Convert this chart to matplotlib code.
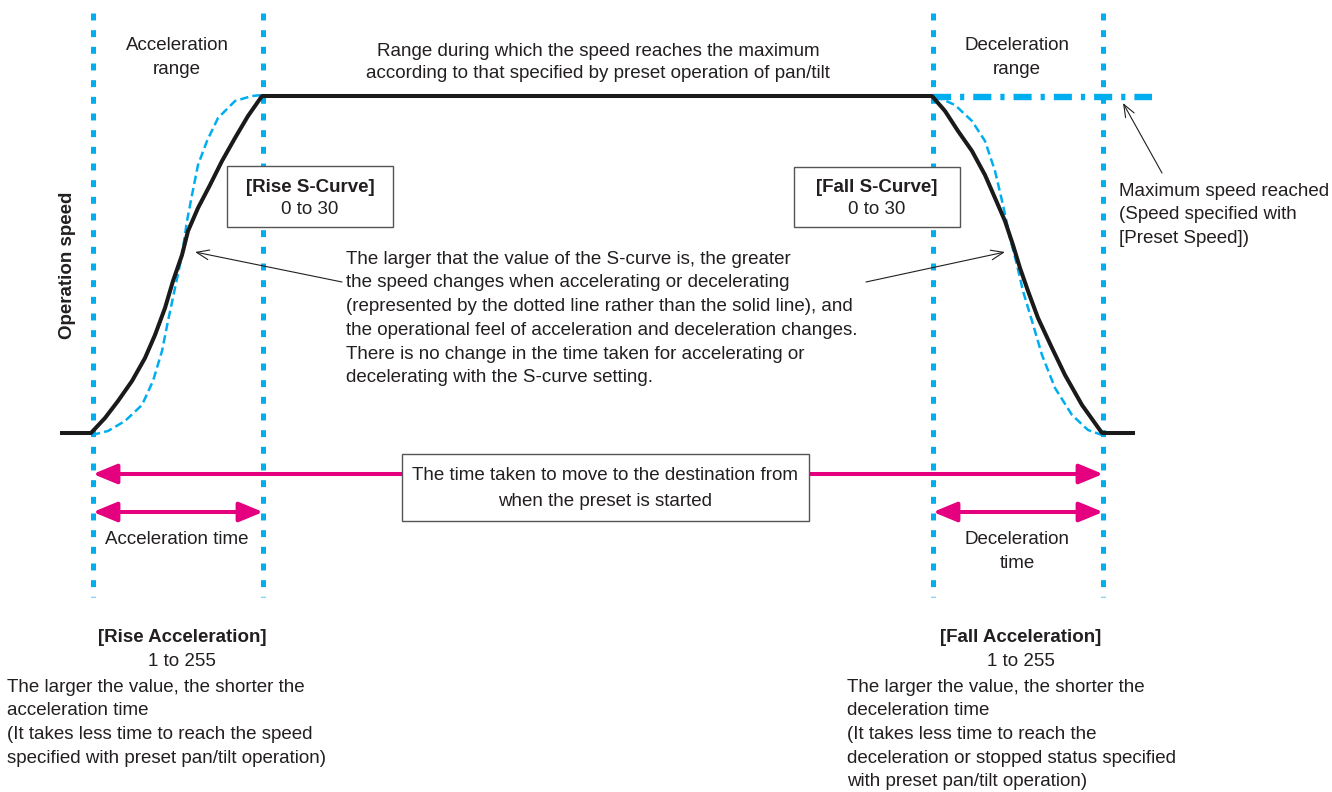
import matplotlib.pyplot as plt
from matplotlib.patches import FancyArrowPatch, Rectangle

# canvas is laid out in pixel units of the 1332x792 picture
W, H = 1332, 792
BLUE = '#00aeef'
PINK = '#e4007f'
INK = '#231f20'
FS = 13.5

plt.rcParams['font.family'] = ['Liberation Sans', 'DejaVu Sans']
plt.rcParams['lines.scale_dashes'] = False

# range boundaries (start accel, end accel, start decel, end decel)
bounds_x = [93, 263, 933, 1103]
bounds_top, bounds_bottom = 13, 597

# operation speed, solid line
speed_x = [62, 91, 105, 118, 132, 145, 155, 165, 173, 182, 188, 198, 210, 222, 235, 248, 262,
           932, 945, 958, 972, 985, 995, 1005, 1013, 1020, 1028, 1038, 1052, 1065, 1082, 1102, 1133]
speed_y = [433, 433, 418, 401, 381, 358, 335, 308, 281, 255, 231, 208, 185, 161, 138, 116, 96,
           96, 111, 131, 151, 175, 198, 221, 245, 268, 291, 318, 348, 375, 405, 433, 433]

# S-curve versions (dashed blue)
rise_s_x = [92, 108, 125, 142, 153, 162, 168, 175, 182, 187, 192, 198, 207, 218, 235, 252, 262]
rise_s_y = [435, 431, 421, 405, 381, 351, 321, 288, 255, 221, 195, 165, 141, 118, 101, 96, 95]
fall_s_x = [935, 955, 972, 985, 995, 1003, 1010, 1017, 1023, 1032, 1042, 1055, 1072, 1088, 1102]
fall_s_y = [96, 105, 121, 141, 171, 205, 238, 265, 291, 321, 355, 388, 415, 430, 435]

# maximum speed level
max_speed_y = 97
max_speed_x = [933, 1152]

fig = plt.figure(figsize=(W / 100, H / 100), dpi=100)
ax = fig.add_axes([0, 0, 1, 1])
ax.set_xlim(0, W)
ax.set_ylim(H, 0)
ax.axis('off')

for x in bounds_x:
    ax.plot([x, x], [bounds_top, bounds_bottom], color=BLUE, lw=3.6,
            dashes=(5, 7), dash_capstyle='butt', zorder=1)

ax.plot(max_speed_x, [max_speed_y, max_speed_y], color=BLUE, lw=4.6,
        dashes=(13, 6.5, 3, 6.5), dash_capstyle='butt', zorder=1)

ax.plot(rise_s_x, rise_s_y, color=BLUE, lw=1.8, dashes=(6, 3), zorder=2)
ax.plot(fall_s_x, fall_s_y, color=BLUE, lw=1.8, dashes=(6, 3), zorder=2)
ax.plot(speed_x, speed_y, color='#1a1a1a', lw=2.9, solid_joinstyle='round', zorder=3)


def pink_arrow(x0, x1, y):
    a = FancyArrowPatch((x0, y), (x1, y), arrowstyle='<|-|>,head_length=14.5,head_width=6',
                        color=PINK, lw=2.9, shrinkA=0, shrinkB=0, mutation_scale=1, zorder=4)
    ax.add_patch(a)


pink_arrow(bounds_x[0], bounds_x[3], 474)
pink_arrow(bounds_x[0], bounds_x[1], 512)
pink_arrow(bounds_x[2], bounds_x[3], 512)


def thin_arrow(tail, tip):
    a = FancyArrowPatch(tail, tip, arrowstyle='->,head_length=9,head_width=3.5',
                        color=INK, lw=0.8, shrinkA=0, shrinkB=0, mutation_scale=1, zorder=4)
    ax.add_patch(a)


thin_arrow((342, 282), (195, 252))
thin_arrow((866, 282), (1005, 252))
thin_arrow((1162, 173), (1123, 103))


def box(x0, y0, x1, y1):
    ax.add_patch(Rectangle((x0, y0), x1 - x0, y1 - y0, facecolor='white',
                           edgecolor='#555555', lw=1.0, zorder=5))


box(227, 166, 393, 227)
box(794, 167, 960, 227)
box(402, 454, 809, 521)


def put(x, y, s, ha='center', bold=False):
    ax.text(x, y, s, ha=ha, va='center', fontsize=FS, color=INK,
            fontweight='bold' if bold else 'normal', zorder=6)


put(177, 46, 'Acceleration')
put(177, 70, 'range')
put(1017, 46, 'Deceleration')
put(1017, 70, 'range')
put(598, 51, 'Range during which the speed reaches the maximum')
put(598, 74, 'according to that specified by preset operation of pan/tilt')

ax.text(68, 265, 'Operation speed', rotation=90, ha='center', va='center',
        fontsize=FS, fontweight='bold', color=INK)

put(310, 187, '[Rise S-Curve]', bold=True)
put(310, 210, '0 to 30')
put(877, 187, '[Fall S-Curve]', bold=True)
put(877, 210, '0 to 30')

max_lines = ['Maximum speed reached', '(Speed specified with', '[Preset Speed])']
for i, s in enumerate(max_lines):
    put(1119, 191 + i * 23.7, s, ha='left')

note_lines = ['The larger that the value of the S-curve is, the greater',
              'the speed changes when accelerating or decelerating',
              '(represented by the dotted line rather than the solid line), and',
              'the operational feel of acceleration and deceleration changes.',
              'There is no change in the time taken for accelerating or',
              'decelerating with the S-curve setting.']
for i, s in enumerate(note_lines):
    put(346, 259 + i * 23.8, s, ha='left')

put(605, 476, 'The time taken to move to the destination from')
put(605, 501, 'when the preset is started')

put(177, 540, 'Acceleration time')
put(1017, 540, 'Deceleration')
put(1017, 564, 'time')

put(182, 638, '[Rise Acceleration]', bold=True)
put(182, 662, '1 to 255')
rise_lines = ['The larger the value, the shorter the',
              'acceleration time',
              '(It takes less time to reach the speed',
              'specified with preset pan/tilt operation)']
for i, s in enumerate(rise_lines):
    put(7, 687 + i * 23.7, s, ha='left')

put(1021, 638, '[Fall Acceleration]', bold=True)
put(1021, 662, '1 to 255')
fall_lines = ['The larger the value, the shorter the',
              'deceleration time',
              '(It takes less time to reach the',
              'deceleration or stopped status specified',
              'with preset pan/tilt operation)']
for i, s in enumerate(fall_lines):
    put(847, 687 + i * 23.7, s, ha='left')

fig.savefig('out.png', dpi=100)
